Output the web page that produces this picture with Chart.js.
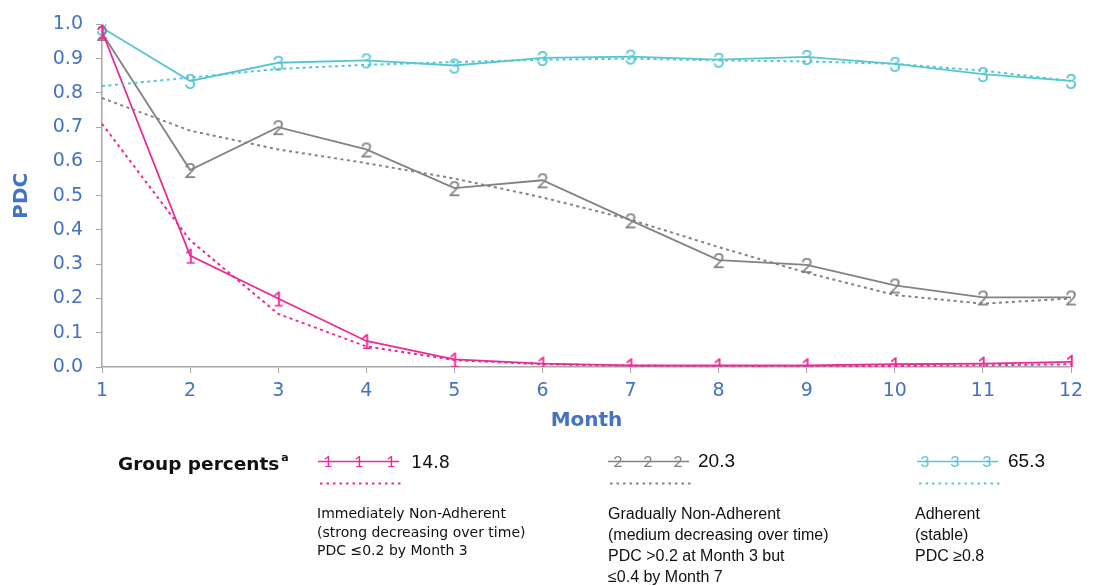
<!DOCTYPE html>
<html><head><meta charset="utf-8">
<script src="https://cdn.jsdelivr.net/npm/chart.js@4.4.1/dist/chart.umd.min.js"></script>
<style>
html,body{margin:0;padding:0;background:#fff;}
body{width:1095px;height:586px;overflow:hidden;position:relative;}
#wrap{position:absolute;left:0;top:0;width:1095px;height:440px;}
.t{position:absolute;white-space:nowrap;color:#111;}
svg{position:absolute;left:0;top:0;}
</style></head><body>
<div id="wrap"><canvas id="c" width="1095" height="440"></canvas></div>
<svg id="leg" width="1095" height="586"></svg>
<div id="legtext"></div>
<script>
// ---- data ----
const months = [1,2,3,4,5,6,7,8,9,10,11,12];
const yTicks = [0,0.1,0.2,0.3,0.4,0.5,0.6,0.7,0.8,0.9,1.0];
const group1Observed = [0.98,0.325,0.20,0.076,0.022,0.010,0.005,0.005,0.005,0.008,0.010,0.015];
const group1Fitted   = [0.71,0.37,0.155,0.06,0.02,0.008,0.004,0.002,0.002,0.003,0.005,0.008];
const group2Observed = [0.975,0.575,0.70,0.635,0.522,0.545,0.428,0.312,0.298,0.238,0.203,0.203];
const group2Fitted   = [0.785,0.69,0.635,0.595,0.55,0.495,0.43,0.35,0.275,0.21,0.185,0.20];
const group3Observed = [0.99,0.835,0.888,0.895,0.88,0.902,0.906,0.897,0.905,0.885,0.855,0.835];
const group3Fitted   = [0.82,0.845,0.87,0.882,0.89,0.897,0.9,0.895,0.892,0.885,0.865,0.835];
const groupMarkers = ['1','2','3'];
const groupPercents = ['14.8','20.3','65.3'];
const groupDescriptions = [
  ['Immediately Non-Adherent','(strong decreasing over time)','PDC \u22640.2 by Month 3'],
  ['Gradually Non-Adherent','(medium decreasing over time)','PDC >0.2 at Month 3 but','\u22640.4 by Month 7'],
  ['Adherent','(stable)','PDC \u22650.8']
];
const colors = ['#EC2A96','#828282','#56C7D1'];
const axisBlue = '#4472C4';

function digitCanvas(d, color, size){
  const c = document.createElement('canvas');
  c.width = 22; c.height = 28;
  const g = c.getContext('2d');
  g.fillStyle = color;
  g.font = '400 ' + size + 'px Lato';
  g.textAlign = 'center';
  g.textBaseline = 'alphabetic';
  g.fillText(d, 11, 14 + size*0.36);
  return c;
}

const obs = [group1Observed, group2Observed, group3Observed];
const fit = [group1Fitted, group2Fitted, group3Fitted];
const datasets = [];
for (let i=0;i<3;i++){
  datasets.push({
    data: fit[i], borderColor: colors[i], borderWidth: 2, borderDash:[3,3.5],
    pointRadius: 0, fill:false, tension:0
  });
}
for (let i=0;i<3;i++){
  const pc = digitCanvas(groupMarkers[i], colors[i], 21);
  datasets.push({
    data: obs[i], borderColor: colors[i], borderWidth: 1.8,
    pointStyle: pc, pointRadius: 8, fill:false, tension:0
  });
}

new Chart(document.getElementById('c'), {
  type: 'line',
  data: { labels: months, datasets },
  options: {
    responsive:false, animation:false, devicePixelRatio:1,
    layout:{ padding:{ left:0, right:24, top:23, bottom:0 } },
    plugins:{ legend:{display:false}, tooltip:{enabled:false} },
    scales:{
      x:{
        type:'category', offset:false,
        grid:{ drawOnChartArea:false, drawTicks:true, tickLength:6, color:'#a6a6a6' },
        border:{ display:true, color:'#a6a6a6', width:1.5 },
        ticks:{ color:axisBlue, font:{family:'DejaVu Sans', size:19}, padding:7, maxRotation:0, autoSkip:false },
        title:{ display:true, text:'Month', color:axisBlue, font:{family:'DejaVu Sans', size:20, weight:'bold'}, padding:{top:0,bottom:7} },
        afterFit(s){ s.height = 73; }
      },
      y:{
        min:0, max:1,
        afterBuildTicks(s){ s.ticks = yTicks.map(v=>({value:v})); },
        grid:{ drawOnChartArea:false, drawTicks:true, tickLength:6, color:'#a6a6a6' },
        border:{ display:true, color:'#a6a6a6', width:1.5 },
        ticks:{ color:axisBlue, font:{family:'DejaVu Sans', size:19}, padding:13, callback:v=>Number(v).toFixed(1) },
        title:{ display:true, text:'PDC', color:axisBlue, font:{family:'DejaVu Sans', size:20, weight:'bold'}, padding:{top:10,bottom:0} },
        afterFit(s){ s.width = 102; }
      }
    }
  }
});

// ---- legend ----
const svg = document.getElementById('leg');
const NS = 'http://www.w3.org/2000/svg';
const sampleX = [318, 608, 917];
const digitsOffsets = [[10,41,73],[10,40,70],[8,38,70]];
function el(n, a){ const e=document.createElementNS(NS,n); for(const k in a) e.setAttribute(k,a[k]); svg.appendChild(e); return e; }
for (let i=0;i<3;i++){
  const x0 = sampleX[i];
  el('line',{x1:x0,y1:461.5,x2:x0+81,y2:461.5,stroke:colors[i],'stroke-width':1.6});
  digitsOffsets[i].forEach(o=>{
    const t = el('text',{x:x0+o,y:467,fill:colors[i],'font-family':'Lato','font-weight':400,'font-size':16,'text-anchor':'middle'});
    t.textContent = groupMarkers[i];
  });
  el('line',{x1:x0+2,y1:483.5,x2:x0+84,y2:483.5,stroke:colors[i],'stroke-width':1.8,'stroke-dasharray':'2.5 4'});
}
const lt = document.getElementById('legtext');
function txt(s, css){ const d=document.createElement('div'); d.className='t'; d.innerHTML=s; d.style.cssText+=css; lt.appendChild(d); return d; }
txt('Group percents<sup style="font-size:11px;position:relative;top:-2px;margin-left:2px;">a</sup>','left:118px;top:450px;font:bold 18.5px "DejaVu Sans";line-height:20px;');
txt(groupPercents[0],'left:411px;top:452px;font:17.5px "DejaVu Sans";line-height:20px;');
txt(groupPercents[1],'left:698px;top:450px;font:19px "Liberation Sans";line-height:22px;');
txt(groupPercents[2],'left:1008px;top:450px;font:19px "Liberation Sans";line-height:22px;');
txt(groupDescriptions[0].join('<br>'),'left:317px;top:504px;font:14px "DejaVu Sans";line-height:18.7px;');
txt(groupDescriptions[1].join('<br>'),'left:608px;top:503px;font:16px "Liberation Sans";line-height:21px;');
txt(groupDescriptions[2].join('<br>'),'left:915px;top:503px;font:16px "Liberation Sans";line-height:21px;');
</script>
</body></html>
